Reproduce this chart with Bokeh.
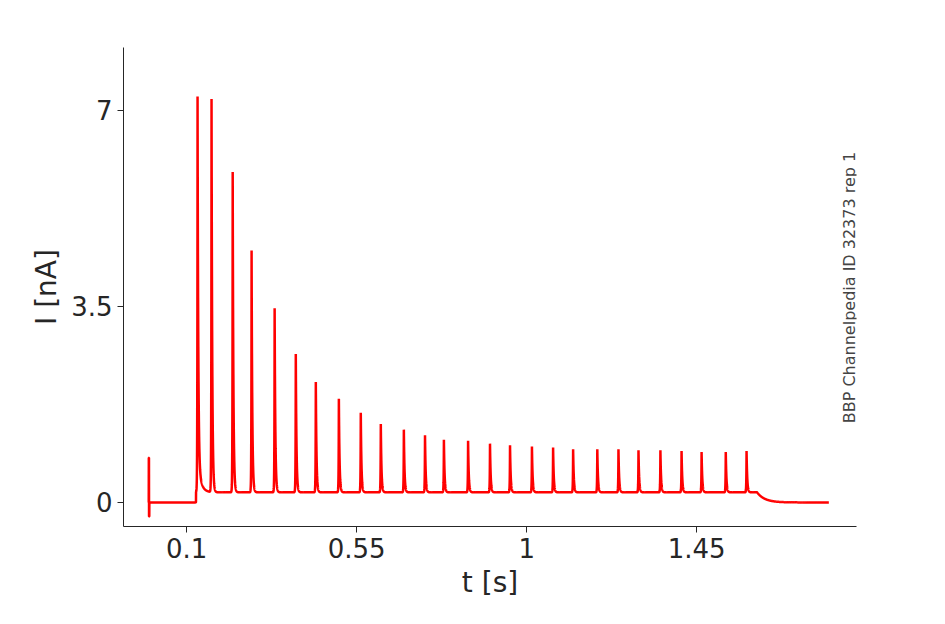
import numpy as np
from bokeh.plotting import figure
from bokeh.models import Label, Range1d, FixedTicker
from bokeh.embed import file_html
from bokeh.resources import INLINE

spike_times = [0.129, 0.166, 0.222, 0.272, 0.333, 0.389, 0.442, 0.503, 0.561, 0.614,
               0.675, 0.731, 0.781, 0.845, 0.903, 0.956, 1.014, 1.070, 1.123, 1.187,
               1.243, 1.296, 1.354, 1.410, 1.463, 1.527, 1.582]
spike_peaks = [7.25, 7.2, 5.9, 4.5, 3.47, 2.65, 2.15, 1.85, 1.6, 1.4, 1.3, 1.2, 1.12,
               1.1, 1.05, 1.02, 1.0, 0.98, 0.95, 0.95, 0.95, 0.93, 0.93, 0.92, 0.9, 0.9, 0.92]
stim_start, stim_end, t_end = 0.125, 1.61, 1.80
holding_level = 0.18

t = np.arange(-0.002, t_end, 0.0002)
y = np.zeros_like(t)
y += np.where((t >= stim_start) & (t <= stim_end), holding_level, 0)
after = t > stim_end
y[after] = holding_level * np.exp(-(t[after] - stim_end) / 0.02)
y += np.where((t >= 0) & (t < 0.0006), 0.8, 0) + np.where((t >= 0.0006) & (t < 0.0014), -0.25, 0)
for i, (ts, pk) in enumerate(zip(spike_times, spike_peaks)):
    d = t - ts
    tail = 0.6 if i == 0 else 0.0
    shape = np.where(d < 0, np.exp(np.minimum(d, 0) / 0.0006), np.exp(-np.maximum(d, 0) / 0.0018))
    y += (pk - holding_level - tail) * shape
    if tail:
        y += np.where(d > 0, tail * np.exp(-np.maximum(d, 0) / 0.008), 0)

p = figure(width=930, height=610, output_backend="svg", toolbar_location=None,
           x_range=Range1d(-0.067, 1.873), y_range=Range1d(-0.43, 8.125),
           min_border_left=123, min_border_right=74, min_border_top=47, min_border_bottom=84)
p.line(t, y, line_color="red", line_width=2.5)
p.xgrid.visible = False
p.ygrid.visible = False
p.outline_line_color = None
p.xaxis.ticker = FixedTicker(ticks=[0.1, 0.55, 1, 1.45])
p.yaxis.ticker = FixedTicker(ticks=[0, 3.5, 7])
p.xaxis.major_label_overrides = {0.1: "0.1", 0.55: "0.55", 1: "1", 1.45: "1.45"}
p.yaxis.major_label_overrides = {0: "0", 3.5: "3.5", 7: "7"}
for ax in (p.xaxis, p.yaxis):
    ax.minor_tick_line_color = None
    ax.major_tick_in = 0
    ax.major_tick_out = 6
    ax.major_label_text_font_size = "26px"
    ax.axis_label_text_font_size = "28px"
    ax.axis_label_text_font_style = "normal"
    ax.major_label_text_color = "#262626"
    ax.axis_label_text_color = "#262626"
    ax.axis_line_color = "#262626"
    ax.major_tick_line_color = "#262626"
    ax.major_label_text_font = "DejaVu Sans"
    ax.axis_label_text_font = "DejaVu Sans"
p.xaxis.axis_label = "t [s]"
p.yaxis.axis_label = "I [nA]"

p.add_layout(Label(x=35, y=480, x_units="screen", y_units="screen", text="Kv1.4  Mouse  CHO  35 °C",
                   text_font_style="bold", text_font_size="16px", text_font="DejaVu Sans"))
p.add_layout(Label(x=688, y=480, x_units="screen", y_units="screen", text="AP",
                   text_font_size="17px", text_font="DejaVu Sans"))
p.add_layout(Label(x=726, y=239, x_units="screen", y_units="screen", text="BBP Channelpedia ID 32373 rep 1",
                   angle=np.pi / 2, text_align="center", text_baseline="middle",
                   text_font_size="16px", text_font="DejaVu Sans"))

open("out.html", "w").write(file_html(p, INLINE))
